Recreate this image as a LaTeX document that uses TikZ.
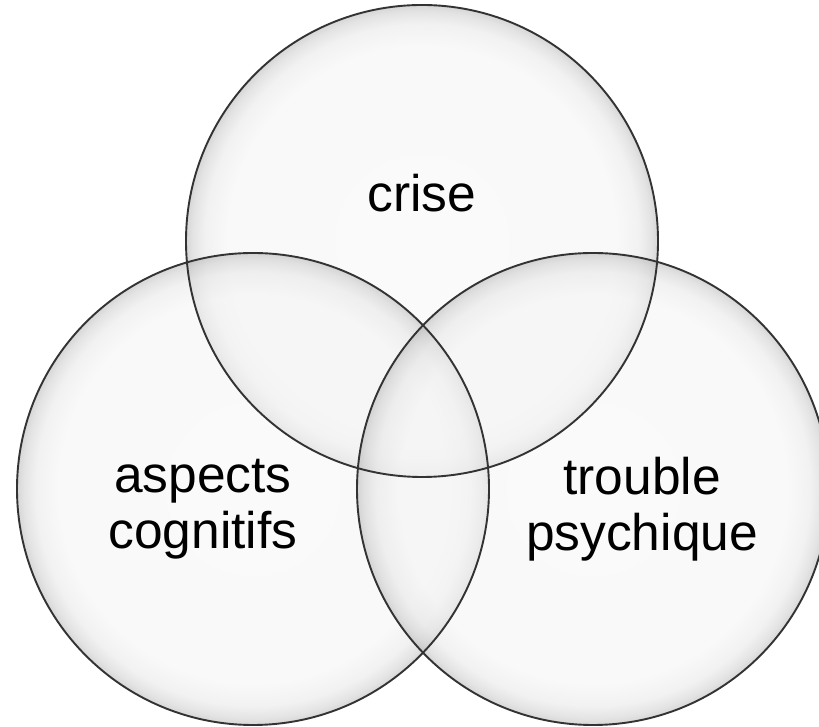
\documentclass[tikz,border=0pt]{standalone}
\usepackage{fontspec}
\setmainfont{Liberation Sans}
\pgfdeclareradialshading{bubbleshade}{\pgfpoint{0bp}{0bp}}{%
  color(0bp)=(gray!7); color(20.5bp)=(gray!8); color(23bp)=(gray!20);
  color(24.3bp)=(gray!42); color(25bp)=(gray!62); color(50bp)=(gray!62)}
\tikzset{
  bubble/.style={shading=bubbleshade, fill opacity=0.5},
  ring/.style={circle, draw=black!80, line width=1.9pt, minimum size=472pt,
    inner sep=0pt, outer sep=0pt},
  lbl/.style={align=center, font=\fontsize{51.5}{56}\selectfont}
}
\begin{document}
\begin{tikzpicture}[x=1pt, y=1pt]
    \fill[white] (0,0) rectangle (819,727);
    \useasboundingbox (0,0) rectangle (819,727);
    \coordinate (ctop) at (422,486);
    \coordinate (cleft) at (253,238);
    \coordinate (cright) at (593,238);
	% bubbles
	\foreach \c in {ctop,cleft,cright}
		\shade[bubble] (\c) circle (236);
	\foreach \c in {ctop,cleft,cright}
		\node[ring] (\c-ring) at (\c) {};
	% labels
	\node[lbl, anchor=base] (crise) at ([yshift=29pt]ctop) {crise};
	\node[lbl] (aspects) at ([xshift=-50pt, yshift=-20pt]cleft) {aspects\\cognitifs};
	\node[lbl] (trouble) at ([xshift=49pt, yshift=-20pt]cright) {trouble\\psychique};
\end{tikzpicture}
\end{document}
